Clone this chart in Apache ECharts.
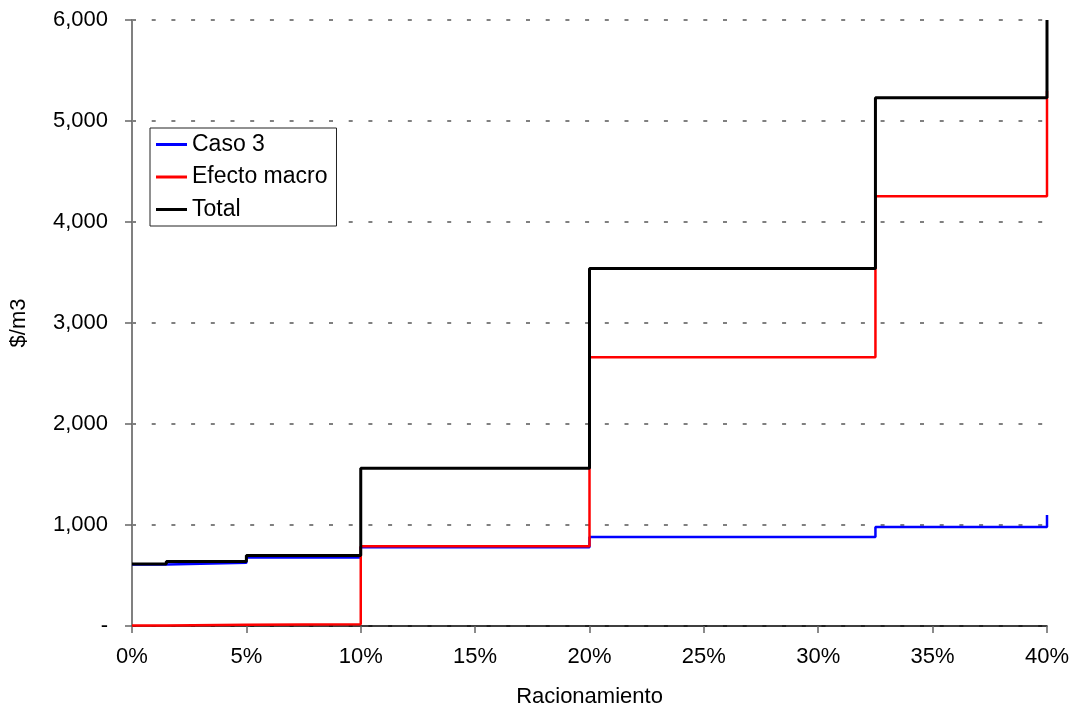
<!DOCTYPE html>
<html>
<head>
<meta charset="utf-8">
<script src="https://cdn.jsdelivr.net/npm/echarts@6/dist/echarts.min.js"></script>
<style>html,body{margin:0;padding:0;background:#fff}#c{width:1075px;height:713px}</style>
</head>
<body>
<div id="c"></div>
<script>
// Step breakpoints (fraction of rationing)
const steps = [0, 0.015, 0.05, 0.10, 0.20, 0.325, 0.40];
const caso3 = [610, 625, 678, 780, 880, 980, 1100];
const efectoMacro = [5, 12, 18, 790, 2660, 4255, 5300];
const total = [615, 638, 697, 1562, 3540, 5230, 6000];
const seriesNames = ['Caso 3', 'Efecto macro', 'Total'];
const yTicks = [0, 1000, 2000, 3000, 4000, 5000, 6000];

function pts(vals){ return steps.map((x,i)=>[x, vals[i]]); }
const font = 'Liberation Sans, Arial, sans-serif';
const chart = echarts.init(document.getElementById('c'), null, {renderer:'canvas'});
chart.setOption({
  animation:false,
  backgroundColor:'#fff',
  grid:{left:132, right:28, top:20, bottom:82, containLabel:false},
  legend:{
    orient:'vertical', left:150, top:128,
    data:seriesNames,
    icon:'rect', itemWidth:31, itemHeight:3, itemGap:9.5,
    borderColor:'#222', borderWidth:1, padding:[5,9,5,6],
    backgroundColor:'#fff',
    textStyle:{fontFamily:font, fontSize:23, color:'#000', lineHeight:23}
  },
  xAxis:{
    type:'value', min:0, max:0.4, interval:0.05,
    name:'Racionamiento', nameLocation:'middle', nameGap:60,
    nameTextStyle:{fontFamily:font, fontSize:22, color:'#000'},
    axisLine:{show:true, lineStyle:{color:'#000', width:1.5}},
    axisTick:{show:true, inside:false, length:7, lineStyle:{color:'#666', width:1.5}},
    axisLabel:{fontFamily:font, fontSize:22, color:'#000', margin:20,
      formatter:v=>Math.round(v*100)+'%'},
    splitLine:{show:false}
  },
  yAxis:{
    type:'value', min:0, max:6000, interval:1000,
    name:'$/m3', nameLocation:'middle', nameGap:102, nameRotate:90,
    nameTextStyle:{fontFamily:font, fontSize:22, color:'#000'},
    axisLine:{show:true, onZero:false, lineStyle:{color:'#808080', width:2}},
    axisTick:{show:true, inside:false, length:7, lineStyle:{color:'#666', width:1.5}},
    axisLabel:{fontFamily:font, fontSize:22, color:'#000', margin:24,
      formatter:v=> v===0 ? '-' : v.toLocaleString('en-US')},
    splitLine:{show:true, lineStyle:{color:'#808080', type:[4,15.7], width:2}}
  },
  series:[
    {name:seriesNames[0], type:'line', step:'end', data:pts(caso3), showSymbol:false,
     lineStyle:{color:'#0000ff', width:2.5}, itemStyle:{color:'#0000ff'}, z:2},
    {name:seriesNames[1], type:'line', step:'end', data:pts(efectoMacro), showSymbol:false,
     lineStyle:{color:'#ff0000', width:2.5}, itemStyle:{color:'#ff0000'}, z:3},
    {name:seriesNames[2], type:'line', step:'end', data:pts(total), showSymbol:false,
     lineStyle:{color:'#000000', width:3}, itemStyle:{color:'#000000'}, z:4}
  ]
});
</script>
</body>
</html>
